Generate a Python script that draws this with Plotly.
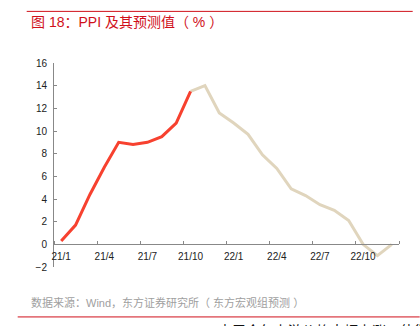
import plotly.graph_objects as go

# Monthly PPI YoY (%), Jan 2021 - Dec 2022
months = ["21/1", "21/2", "21/3", "21/4", "21/5", "21/6", "21/7", "21/8", "21/9", "21/10", "21/11", "21/12",
          "22/1", "22/2", "22/3", "22/4", "22/5", "22/6", "22/7", "22/8", "22/9", "22/10", "22/11", "22/12"]
actual = [0.3, 1.7, 4.4, 6.8, 9.0, 8.8, 9.0, 9.5, 10.7, 13.5]
forecast = [13.5, 14.0, 11.6, 10.7, 9.7, 7.9, 6.7, 4.9, 4.3, 3.5, 3.0, 2.1, 0.0, -1.0, 0.0]
tick_labels = ["21/1", "21/4", "21/7", "21/10", "22/1", "22/4", "22/7", "22/10"]

W, H = 420, 326
L, R, T, B = 54.3, 399.3, 62.7, 267.0  # plot area in pixels
pw, ph = R - L, B - T


def px(x):
    return (x - L) / pw


def py(y):
    return (B - y) / ph


idx = list(range(len(months)))
n_act = len(actual)
x_act = idx[:n_act]
x_fc = idx[n_act - 1:]

font = "Liberation Sans, Arial, Noto Sans CJK SC, sans-serif"

fig = go.Figure()
fig.add_trace(go.Scatter(x=x_fc, y=forecast, mode="lines",
                         line=dict(color="#e0d5bd", width=3), hoverinfo="skip"))
fig.add_trace(go.Scatter(x=x_act, y=actual, mode="lines",
                         line=dict(color="#f7412f", width=3), hoverinfo="skip"))

tick_pos = [months.index(t) for t in tick_labels]
fig.update_layout(
    width=W, height=H,
    margin=dict(l=L, r=W - R, t=T, b=H - B, pad=0),
    paper_bgcolor="white", plot_bgcolor="white",
    showlegend=False,
    font=dict(family=font, size=10, color="#222"),
    xaxis=dict(range=[-0.5, 23.5], tickmode="array", tickvals=tick_pos, ticktext=tick_labels,
               ticks="", showgrid=False, zeroline=False, showline=True,
               linecolor="#888", linewidth=1, anchor="free", position=2 / 18,
               ticklabelstandoff=3,
               tickfont=dict(size=10, color="#222"),
               minor=dict(tick0=-0.5, dtick=3, ticks="inside", ticklen=3, tickcolor="#888",
                          showgrid=False)),
    yaxis=dict(range=[-2, 16], dtick=2, ticks="inside", ticklen=3, tickcolor="#888",
               showgrid=False, zeroline=False, showline=True, linecolor="#888", linewidth=1,
               ticklabelstandoff=4,
               tickfont=dict(size=10, color="#222")),
)

fig.add_annotation(text="图 18：PPI 及其预测值（ % ）", xref="paper", yref="paper",
                   x=px(29), y=py(22), xanchor="left", yanchor="middle", showarrow=False,
                   font=dict(family=font, size=14, color="#d0101a"))
fig.add_annotation(text="数据来源：Wind，东方证券研究所（ 东方宏观组预测 ）", xref="paper", yref="paper",
                   x=px(29), y=py(303), xanchor="left", yanchor="middle", showarrow=False,
                   font=dict(family=font, size=11, color="#a0a0a0"))
fig.add_annotation(text="由于今年上游价格大幅上涨，使得", xref="paper", yref="paper",
                   x=px(216), y=py(331), xanchor="left", yanchor="middle", showarrow=False,
                   font=dict(family=font, size=14, color="#111"))

fig.add_shape(type="line", xref="paper", yref="paper", x0=px(27), x1=px(413), y0=py(11), y1=py(11),
              line=dict(color="#d0101a", width=1))
fig.add_shape(type="line", xref="paper", yref="paper", x0=px(18), x1=px(420), y0=py(317), y1=py(317),
              line=dict(color="#d0101a", width=1))

fig.write_html("out.html")
